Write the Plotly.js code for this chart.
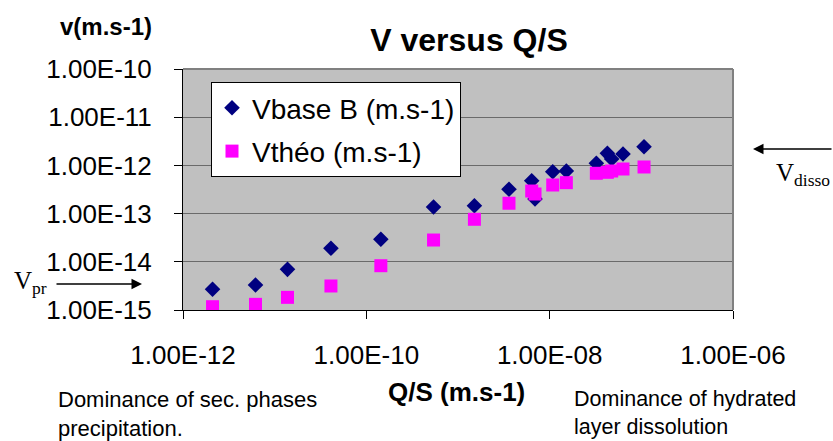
<!DOCTYPE html>
<html><head><meta charset="utf-8">
<script src="https://cdn.plot.ly/plotly-3.0.1.min.js"></script>
<style>html,body{margin:0;padding:0;background:#fff;}#chart{width:833px;height:441px;}</style>
</head><body><div id="chart"></div>
<script>
const qs = [2.10e-12, 6.18e-12, 1.38e-11, 4.11e-11, 1.44e-10, 5.41e-10, 1.51e-9, 3.60e-9, 6.37e-9, 6.92e-9, 1.08e-8, 1.52e-8, 3.23e-8, 4.26e-8, 4.75e-8, 6.31e-8, 1.07e-7];
const vbase = [2.69e-15, 3.30e-15, 6.98e-15, 1.91e-14, 2.93e-14, 1.37e-13, 1.46e-13, 3.19e-13, 4.82e-13, 2.01e-13, 7.40e-13, 7.65e-13, 1.11e-12, 1.78e-12, 1.36e-12, 1.72e-12, 2.44e-12];
const vtheo = [1.17e-15, 1.31e-15, 1.83e-15, 3.15e-15, 8.30e-15, 2.83e-14, 7.62e-14, 1.64e-13, 2.94e-13, 2.55e-13, 3.92e-13, 4.38e-13, 6.86e-13, 7.19e-13, 7.65e-13, 8.42e-13, 9.27e-13];
const xTickVals = [1e-12, 1e-10, 1e-8, 1e-6];
const xTickText = ["1.00E-12", "1.00E-10", "1.00E-08", "1.00E-06"];
const yTickVals = [1e-15, 1e-14, 1e-13, 1e-12, 1e-11, 1e-10];
const yTickText = ["1.00E-15", "1.00E-14", "1.00E-13", "1.00E-12", "1.00E-11", "1.00E-10"];

const F = "Liberation Sans, Arial, sans-serif";
const SERIF = "Liberation Serif, Times New Roman, serif";
const L = 183, R = 733, T = 69, B = 310;
const px = x => (x - L) / (R - L);
const py = y => (B - y) / (B - T);

const traces = [
  {x: qs, y: vbase, type: 'scatter', mode: 'markers', name: 'Vbase B (m.s-1)', legendgroup: 'a',
   marker: {symbol: 'diamond', size: 12, color: '#000080'}},
  {x: qs, y: vtheo, type: 'scatter', mode: 'markers', name: 'Vthéo (m.s-1)', legendgroup: 'b',
   marker: {symbol: 'square', size: 13, color: '#ff00ff'}}
];

const layout = {
  width: 833, height: 441,
  margin: {l: L, r: 833 - R, t: T, b: 441 - B, pad: 0},
  paper_bgcolor: '#ffffff', plot_bgcolor: '#c0c0c0',
  font: {family: F, color: '#000'},
  showlegend: true,
  title: {text: '<b>V versus Q/S</b>', font: {family: F, size: 32, color: '#000'},
          x: 469/833, xanchor: 'center', y: 1 - 40/441, yanchor: 'middle'},
  xaxis: {type: 'log', range: [-12, -6], tickvals: xTickVals, ticktext: xTickText,
          showgrid: false, zeroline: false, showline: true, linecolor: '#000', linewidth: 1,
          ticks: 'outside', ticklen: 8, tickcolor: '#000', tickwidth: 1,
          tickfont: {family: F, size: 26, color: '#000'}, ticklabelstandoff: 14},
  yaxis: {type: 'log', range: [-15, -10], tickvals: yTickVals, ticktext: yTickText,
          showgrid: true, gridcolor: '#6a6a6a', gridwidth: 1, zeroline: false,
          showline: true, linecolor: '#000', linewidth: 1,
          ticks: 'outside', ticklen: 8, tickcolor: '#000', tickwidth: 1,
          tickfont: {family: F, size: 26, color: '#000'}, ticklabelstandoff: 17},
  legend: {x: px(211), y: py(82), xanchor: 'left', yanchor: 'top',
           bgcolor: '#ffffff', bordercolor: '#000', borderwidth: 1,
           font: {family: F, size: 28, color: '#000'}, tracegroupgap: 4},
  shapes: [
    {type: 'line', xref: 'paper', yref: 'paper', x0: 0, x1: 1, y0: 1, y1: 1, line: {color: '#808080', width: 2}},
    {type: 'line', xref: 'paper', yref: 'paper', x0: 1, x1: 1, y0: 0, y1: 1, line: {color: '#808080', width: 2}}
  ],
  annotations: [
    {text: '<b>v(m.s-1)</b>', xref: 'paper', yref: 'paper', x: px(106), y: py(27), xanchor: 'center', yanchor: 'middle',
     showarrow: false, font: {family: F, size: 24, color: '#000'}},
    {text: '<b>Q/S (m.s-1)</b>', xref: 'paper', yref: 'paper', x: px(456), y: py(392), xanchor: 'center', yanchor: 'middle',
     showarrow: false, font: {family: F, size: 26, color: '#000'}},
    {text: 'Dominance of sec. phases<br>precipitation.', xref: 'paper', yref: 'paper', x: px(56), y: py(414),
     xanchor: 'left', yanchor: 'middle', align: 'left', showarrow: false, font: {family: F, size: 22, color: '#000'}},
    {text: 'Dominance of hydrated<br>layer dissolution', xref: 'paper', yref: 'paper', x: px(572), y: py(413),
     xanchor: 'left', yanchor: 'middle', align: 'left', showarrow: false, font: {family: F, size: 21.5, color: '#000'}},
    {text: 'V<sub>pr</sub>', xref: 'paper', yref: 'paper', x: px(12), y: py(282), xanchor: 'left', yanchor: 'middle',
     showarrow: false, font: {family: SERIF, size: 25, color: '#000'}},
    {text: 'V<sub>disso</sub>', xref: 'paper', yref: 'paper', x: px(774), y: py(174), xanchor: 'left', yanchor: 'middle',
     showarrow: false, font: {family: SERIF, size: 25, color: '#000'}},
    {text: '', xref: 'paper', yref: 'paper', x: px(142), y: py(284), ax: -87, ay: 0, axref: 'pixel', ayref: 'pixel',
     showarrow: true, arrowhead: 2, arrowsize: 1.4, arrowwidth: 1.5, arrowcolor: '#000'},
    {text: '', xref: 'paper', yref: 'paper', x: px(753), y: py(149), ax: 85, ay: 0, axref: 'pixel', ayref: 'pixel',
     showarrow: true, arrowhead: 2, arrowsize: 1.4, arrowwidth: 1.5, arrowcolor: '#000'}
  ]
};

Plotly.newPlot('chart', traces, layout, {displayModeBar: false, staticPlot: true});
</script></body></html>
